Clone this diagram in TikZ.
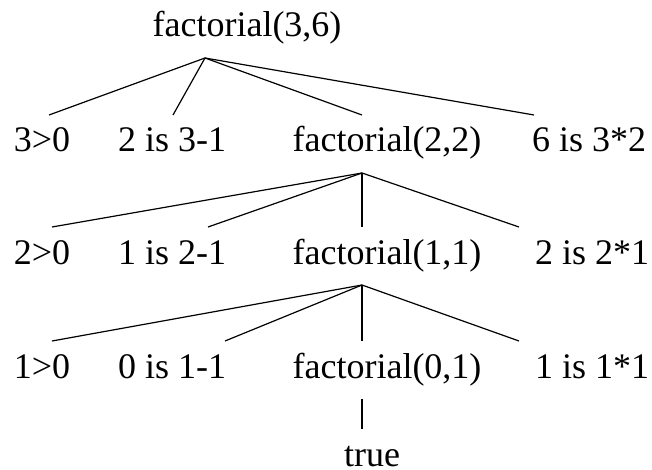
\documentclass[tikz,border=0pt]{standalone}
\usepackage{fontspec}
\setmainfont{Liberation Serif}
\begin{document}
\begin{tikzpicture}[x=1pt,y=-1pt,line width=1.2pt,
    goal/.style={anchor=base,inner xsep=0pt,inner ysep=13pt,outer sep=0pt,
      text height=24pt,text depth=8pt,font=\fontsize{36}{40}\selectfont}]
    \useasboundingbox (0,0) rectangle (652,470);
    \node[goal] (f36) at (247,37)  {factorial(3,6)};
    \node[goal] (g30) at (42,152)  {3>0};
    \node[goal] (s31) at (172,152) {2 is 3-1};
    \node[goal] (f22) at (387,152) {factorial(2,2)};
    \node[goal] (m32) at (589,152) {6 is 3*2};
    \node[goal] (g20) at (42,264)  {2>0};
    \node[goal] (s21) at (172,264) {1 is 2-1};
    \node[goal] (f11) at (387,264) {factorial(1,1)};
    \node[goal] (m21) at (592,264) {2 is 2*1};
    \node[goal] (g10) at (42,378)  {1>0};
    \node[goal] (s10) at (172,378) {0 is 1-1};
    \node[goal] (f01) at (387,378) {factorial(0,1)};
    \node[goal] (m11) at (592,378) {1 is 1*1};
    \node[goal,text depth=0pt,inner ysep=0pt] (tr) at (372,466) {true};
    \path%
      ([xshift=-42pt]f36.south) edge ([xshift=7pt]g30.north)
      ([xshift=-42pt]f36.south) edge ([xshift=1pt]s31.north)
      ([xshift=-42pt]f36.south) edge ([xshift=-25pt]f22.north)
      ([xshift=-42pt]f36.south) edge ([xshift=-55pt]m32.north)
      ([xshift=-25pt]f22.south) edge ([xshift=10pt]g20.north)
      ([xshift=-25pt]f22.south) edge ([xshift=36pt]s21.north)
      ([xshift=-25pt]f22.south) edge ([xshift=-25pt]f11.north)
      ([xshift=-25pt]f22.south) edge ([xshift=-73pt]m21.north)
      ([xshift=-25pt]f11.south) edge ([xshift=10pt]g10.north)
      ([xshift=-25pt]f11.south) edge ([xshift=53pt]s10.north)
      ([xshift=-25pt]f11.south) edge ([xshift=-25pt]f01.north)
      ([xshift=-25pt]f11.south) edge ([xshift=-73pt]m11.north)
      ([xshift=-25pt]f01.south) edge ([xshift=-10pt,yshift=13pt]tr.north);
\end{tikzpicture}
\end{document}
